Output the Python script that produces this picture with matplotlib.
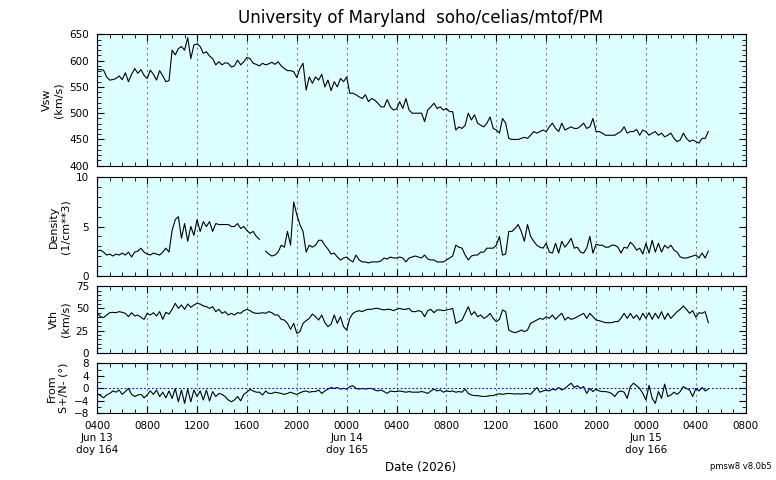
import matplotlib
matplotlib.use('Agg')
import matplotlib.pyplot as plt
from matplotlib.ticker import MultipleLocator
import numpy as np

# samples every 15 min, starting Jun 13 0400 (hour 0)
step_hours = 0.25

vsw = [583, 583, 582, 569, 563, 564, 566, 571, 564, 577, 560, 574, 585, 576, 583, 572,
       566, 582, 574, 563, 581, 571, 560, 562, 620, 611, 623, 627, 620, 644, 604, 630,
       632, 627, 614, 617, 609, 604, 592, 598, 592, 596, 595, 588, 590, 601, 592, 598,
       606, 604, 595, 593, 590, 595, 592, 594, 597, 593, 598, 590, 585, 581, 581, 579,
       568, 585, 595, 544, 569, 557, 569, 563, 574, 550, 563, 543, 560, 550, 566, 560,
       569, 538, 538, 535, 531, 528, 535, 522, 528, 525, 519, 512, 512, 526, 512, 506,
       508, 522, 509, 528, 506, 500, 500, 500, 500, 484, 506, 512, 519, 509, 512, 506,
       509, 503, 503, 468, 474, 471, 477, 500, 487, 497, 481, 477, 474, 481, 493, 471,
       468, 462, 490, 481, 452, 450, 450, 450, 452, 454, 452, 458, 465, 462, 465, 468,
       465, 474, 481, 471, 465, 481, 468, 471, 474, 471, 471, 475, 481, 471, 474, 490,
       465, 465, 462, 458, 458, 458, 458, 462, 465, 474, 462, 465, 465, 469, 458, 468,
       465, 458, 462, 465, 458, 462, 455, 458, 462, 452, 446, 449, 462, 452, 446, 449,
       446, 443, 452, 452, 465]

density = [2.5, 2.6, 2.4, 2.1, 2.2, 2.0, 2.2, 2.1, 2.3, 2.1, 2.4, 1.9, 2.4, 2.5, 2.8, 2.4,
           2.2, 2.1, 2.3, 2.2, 2.1, 2.4, 2.8, 2.4, 4.6, 5.7, 6.0, 3.8, 5.3, 3.5, 5.0, 4.1,
           5.7, 4.5, 5.5, 5.0, 5.5, 4.5, 5.3, 5.2, 5.2, 5.2, 5.2, 5.0, 5.0, 5.3, 4.8, 5.0,
           4.6, 4.3, 4.5, 4.0, 3.7, np.nan, 2.5, 2.2, 2.0, 2.1, 2.4, 3.1, 2.9, 4.5, 3.1, 7.5,
           6.2, 5.2, 4.5, 2.4, 3.1, 2.9, 3.1, 3.6, 3.6, 3.1, 2.7, 2.2, 2.3, 1.9, 1.6, 1.8,
           1.9, 1.6, 1.4, 2.1, 1.6, 1.4, 1.4, 1.3, 1.4, 1.4, 1.4, 1.5, 1.8, 1.7, 1.9, 1.8,
           1.8, 1.9, 1.8, 1.4, 1.8, 1.9, 2.0, 1.9, 1.8, 2.1, 1.7, 1.6, 1.6, 1.4, 1.4, 1.4,
           1.6, 1.8, 2.0, 3.1, 2.9, 2.8, 2.1, 1.6, 2.0, 2.1, 2.1, 2.4, 2.4, 2.8, 2.8, 2.8,
           3.1, 4.0, 2.1, 2.2, 4.5, 4.5, 4.8, 5.2, 4.5, 3.5, 5.2, 4.0, 3.5, 3.1, 2.9, 2.8,
           3.3, 2.4, 2.3, 3.3, 2.3, 3.5, 2.9, 3.3, 3.8, 2.8, 2.9, 2.4, 2.3, 2.8, 4.0, 2.3,
           3.2, 3.1, 3.1, 2.9, 2.9, 3.1, 3.1, 2.9, 2.3, 2.9, 2.8, 3.4, 3.1, 2.6, 2.8, 2.2,
           3.3, 2.3, 3.6, 2.4, 3.3, 2.4, 3.1, 2.8, 3.1, 2.6, 2.4, 1.9, 1.8, 1.8, 1.9, 2.0,
           2.1, 1.8, 2.3, 1.8, 2.5]

vth = [45.0, 40.7, 39.6, 42.6, 45.2, 45.6, 45.2, 46.4, 45.6, 44.5, 40.7, 45.2, 41.5, 42.6, 40.0, 37.7,
       44.5, 42.6, 45.2, 41.5, 46.4, 37.7, 45.6, 43.7, 49.0, 55.8, 50.1, 53.9, 49.0, 55.0, 51.3, 53.9,
       55.8, 55.0, 52.8, 52.0, 50.1, 52.0, 46.4, 49.0, 44.5, 46.4, 42.6, 44.5, 42.6, 45.2, 44.5, 47.5,
       49.0, 47.5, 45.2, 44.5, 44.5, 45.2, 44.5, 46.4, 45.2, 42.6, 42.6, 37.7, 36.9, 33.2, 26.4, 33.2,
       21.9, 23.8, 33.2, 36.2, 38.8, 43.7, 40.7, 36.9, 42.6, 33.9, 29.4, 32.4, 42.6, 33.2, 40.7, 29.4,
       25.6, 38.8, 44.5, 46.4, 47.5, 46.4, 48.3, 49.0, 49.0, 50.1, 50.1, 49.0, 48.3, 49.0, 49.0, 47.5,
       49.0, 50.1, 49.0, 49.0, 50.1, 46.4, 46.4, 47.5, 46.4, 40.7, 47.5, 49.0, 45.2, 48.3, 48.3, 47.5,
       48.3, 49.0, 50.1, 33.2, 35.1, 36.9, 44.5, 52.0, 42.6, 46.4, 40.7, 42.6, 38.8, 40.7, 44.5, 38.8,
       35.1, 37.7, 48.3, 46.4, 25.6, 23.8, 22.6, 23.8, 25.6, 23.8, 25.6, 33.2, 35.1, 36.9, 38.8, 37.7,
       40.7, 38.8, 42.6, 37.7, 41.5, 44.5, 36.9, 40.0, 37.7, 38.8, 40.7, 42.6, 44.5, 38.8, 44.5, 40.7,
       36.9, 36.2, 35.1, 33.9, 33.9, 33.9, 35.1, 35.1, 38.8, 44.5, 38.8, 44.5, 38.8, 42.6, 36.9, 44.5,
       38.8, 45.2, 37.7, 44.5, 38.8, 46.4, 37.7, 44.5, 38.8, 42.6, 46.4, 49.0, 52.8, 49.0, 44.5, 47.5,
       40.0, 45.2, 44.5, 46.4, 34.0]

flow_angle = [-1.7, -2.4, -3.1, -2.2, -1.7, -0.9, -1.3, -0.6, -2.0, -1.1, -0.1, -2.0, -2.7, -2.2, -2.0, -3.1,
              -2.2, -0.9, -2.0, -0.6, -2.7, -1.3, -3.1, -0.9, -3.3, -0.1, -4.4, -0.6, -4.9, -0.3, -4.4, -0.6,
              -2.7, -0.9, -3.8, -0.6, -4.1, -1.1, -2.7, -1.7, -2.0, -2.7, -3.8, -4.4, -3.8, -2.7, -4.1, -2.0,
              -1.3, -0.4, -0.9, -1.3, -1.3, -2.2, -0.9, -1.7, -1.7, -1.3, -1.5, -1.7, -2.0, -1.7, -1.3, -1.7,
              -2.0, -1.5, -1.1, -0.9, -1.3, -1.1, -1.1, -0.6, -1.7, -0.9, -0.3, 0.2, -0.1, 0.2, -0.3, -0.1,
              -0.3, 0.5, 0.8, -0.1, -0.3, -0.1, -0.3, -0.1, -0.1, -0.6, -0.9, -0.6, -1.1, -1.7, -0.9, -1.1,
              -1.1, -0.9, -1.1, -1.3, -1.1, -1.3, -1.3, -1.3, -1.1, -1.3, -1.7, -0.9, -0.3, -0.9, -0.6, -1.3,
              -0.9, -1.1, -0.9, -1.3, -1.1, -1.3, -0.3, -1.7, -2.2, -2.4, -2.4, -2.6, -2.7, -2.6, -2.4, -2.4,
              -2.0, -1.8, -2.0, -1.8, -1.7, -1.8, -1.9, -1.8, -1.9, -1.8, -1.7, -2.0, -0.9, 0.2, -1.3, -0.9,
              -0.6, -0.9, -0.3, -0.6, 0.2, -0.6, -0.1, 0.8, 1.6, 0.2, 0.8, -0.1, 0.5, -1.7, -0.1, -1.1,
              -0.3, -0.9, -1.1, -1.1, -1.3, -1.7, -2.7, -1.3, -0.9, -1.3, -3.3, 0.5, 1.6, 0.8, -0.1, -1.7,
              -3.8, 0.9, -3.3, -4.9, -1.1, -3.3, 1.3, -2.7, -2.2, -1.3, -2.0, -1.1, 0.5, -0.1, -0.6, -2.7,
              -0.1, -0.9, 0.2, -0.9, -0.3]

tick_hours = [0, 4, 8, 12, 16, 20, 24, 28, 32, 36, 40, 44, 48, 52]
tick_labels = ['0400\nJun 13\ndoy 164', '0800', '1200', '1600', '2000',
               '0000\nJun 14\ndoy 165', '0400', '0800', '1200', '1600', '2000',
               '0000\nJun 15\ndoy 166', '0400', '0800']

hours = np.arange(len(vsw)) * step_hours

fig = plt.figure(figsize=(7.76, 4.8), dpi=100)
left = 97.3 / 776
width = 648.4 / 776

# (series, label, ylim, major, minor, bottom, height)
panels = [
    (vsw, 'Vsw\n(km/s)', (400, 650), 50, 10, 0.6548, 0.2735),
    (density, 'Density\n(1/cm**3)', (0, 10), 5, 1, 0.4256, 0.2050),
    (vth, 'Vth\n(km/s)', (0, 75), 25, 5, 0.2652, 0.1383),
    (flow_angle, 'From\nS+/N- (°)', (-8, 8), 4, 2, 0.1396, 0.1035),
]

axes = []
for series, label, ylim, major, minor, bottom, height in panels:
    ax = fig.add_axes([left, bottom, width, height])
    ax.set_facecolor('#ddffff')
    ax.plot(hours, series, color='black', lw=0.8)
    ax.set_xlim(0, 52)
    ax.set_ylim(*ylim)
    ax.yaxis.set_major_locator(MultipleLocator(major))
    ax.yaxis.set_minor_locator(MultipleLocator(minor))
    ax.set_xticks(tick_hours)
    ax.xaxis.set_minor_locator(MultipleLocator(1))
    ax.grid(axis='x', which='major', color='#808080', linestyle=(0, (2, 3)), lw=0.8)
    ax.tick_params(which='both', direction='in', top=True, right=True, labelsize=7.5, pad=6)
    ax.tick_params(which='major', length=5, width=0.8)
    ax.tick_params(which='minor', length=3, width=0.6)
    ax.set_ylabel(label, fontsize=8, labelpad=4)
    ax.set_xticklabels([])
    axes.append(ax)

axes[3].axhline(0, color='blue', linestyle=(0, (1.5, 2)), lw=0.8)
axes[3].set_xticklabels(tick_labels)

fig.text(0.5425, 0.9625, 'University of Maryland  soho/celias/mtof/PM',
         ha='center', va='center', fontsize=12)
fig.text(0.5425, 0.026, 'Date (2026)', ha='center', va='center', fontsize=8.5)
fig.text(0.995, 0.029, 'pmsw8 v8.0b5', ha='right', va='center', fontsize=6)

fig.savefig('out.png', dpi=100)
